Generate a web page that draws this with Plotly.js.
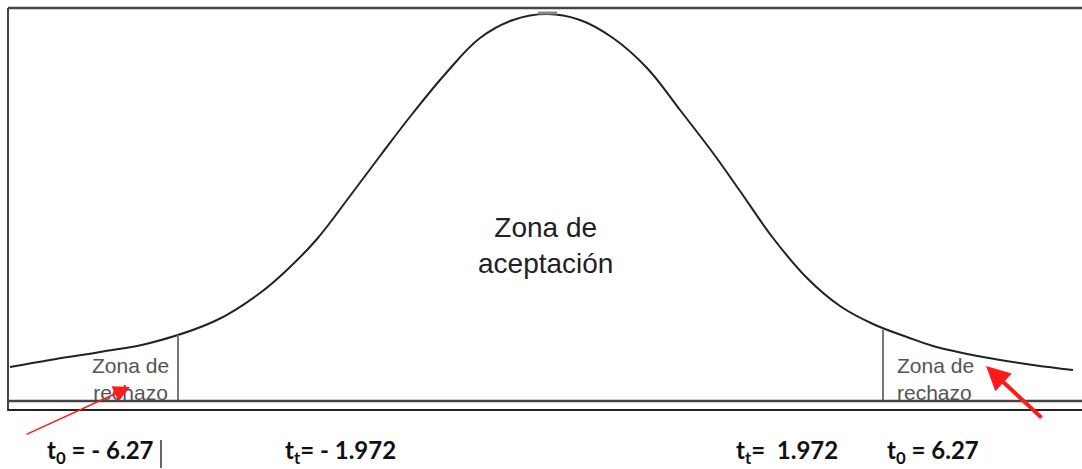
<!DOCTYPE html>
<html>
<head>
<meta charset="utf-8">
<script src="https://cdn.plot.ly/plotly-3.0.1.min.js"></script>
<style>html,body{margin:0;padding:0;background:#fff;}#chart{width:1082px;height:469px;}</style>
</head>
<body>
<div id="chart"></div>
<script>
// Curve (horizontal position, height above baseline)
const curveX = [10, 50, 100, 150, 217, 260, 290, 317, 350, 380, 413, 447, 480, 513, 547, 580, 613, 647, 680, 713, 740, 773, 807, 840, 873, 907, 933, 983, 1033, 1073];
const curveY = [34, 41, 49, 58, 81, 108, 134, 162, 205, 245, 288, 329, 363, 381, 387, 381, 363, 333, 291, 248, 210, 163, 123, 95, 77, 64, 55, 44, 36, 31];

// Critical value boundaries (position, height of the curve there)
const critX = [178, 883];
const critTop = [66, 71];

// Labels
const bottomLabels = ["<b>t<sub>0</sub> = - 6.27</b>", "<b>t<sub>t</sub>= - 1.972</b>", "<b>t<sub>t</sub>=  1.972</b>", "<b>t<sub>0</sub> = 6.27</b>"];
const zoneAccept = "Zona de<br>aceptación";
const zoneReject = "Zona de<br>rechazo";

const traces = [
  {x: curveX, y: curveY, mode: 'lines', line: {color: '#222', width: 2, shape: 'spline', smoothing: 1.1}, hoverinfo: 'skip'}
];
critX.forEach((cx, i) => {
  traces.push({x: [cx, cx], y: [0, critTop[i]], mode: 'lines', line: {color: '#777', width: 2}, hoverinfo: 'skip'});
});

const shapes = [
  {type: 'line', x0: 8, x1: 1082, y0: 393, y1: 393, line: {color: '#444', width: 2.5}},
  {type: 'line', x0: 8, x1: 8, y0: 393, y1: -10, line: {color: '#444', width: 2}},
  {type: 'line', x0: 8, x1: 1082, y0: 0, y1: 0, line: {color: '#444', width: 2.5}},
  {type: 'line', x0: 8, x1: 1082, y0: -9, y1: -9, line: {color: '#222', width: 2}},
  {type: 'line', x0: 538, x1: 557, y0: 388, y1: 388, line: {color: '#888', width: 3}},
  {type: 'line', x0: 161, x1: 161, y0: -39, y1: -67, line: {color: '#000', width: 1.2}}
];

const labelX = [100, 340, 787, 933];
const annotations = [];
bottomLabels.forEach((t, i) => {
  annotations.push({x: labelX[i], y: -50, xref: 'x', yref: 'y', text: t, showarrow: false,
    font: {family: 'Lato, "Liberation Sans", sans-serif', size: 24, color: '#111'}, xanchor: 'center', yanchor: 'middle'});
});
annotations.push({x: 545, y: 156, xref: 'x', yref: 'y', text: zoneAccept, showarrow: false,
  font: {family: '"Liberation Sans", Arial, sans-serif', size: 28, color: '#222'}, xanchor: 'center', yanchor: 'middle'});
annotations.push({x: 130, y: 22, xref: 'x', yref: 'y', text: zoneReject, showarrow: false, align: 'center',
  font: {family: '"Liberation Sans", Arial, sans-serif', size: 21, color: '#555'}, xanchor: 'center', yanchor: 'middle'});
annotations.push({x: 895, y: 22, xref: 'x', yref: 'y', text: zoneReject, showarrow: false, align: 'left',
  font: {family: '"Liberation Sans", Arial, sans-serif', size: 21, color: '#555'}, xanchor: 'left', yanchor: 'middle'});
// red arrows
annotations.push({x: 130, y: 14, ax: 25, ay: -34, xref: 'x', yref: 'y', axref: 'x', ayref: 'y', text: '',
  showarrow: true, arrowhead: 2, arrowsize: 2.2, arrowwidth: 1.5, arrowcolor: '#ff1a1a'});
annotations.push({x: 986, y: 35, ax: 1043, ay: -18, xref: 'x', yref: 'y', axref: 'x', ayref: 'y', text: '',
  showarrow: true, arrowhead: 2, arrowsize: 1.2, arrowwidth: 4, arrowcolor: '#ff1a1a'});

const layout = {
  width: 1082, height: 469,
  margin: {l: 0, r: 0, t: 0, b: 0},
  paper_bgcolor: '#fff', plot_bgcolor: '#fff',
  showlegend: false,
  xaxis: {range: [0, 1082], visible: false, fixedrange: true},
  yaxis: {range: [-68, 401], visible: false, fixedrange: true},
  shapes: shapes,
  annotations: annotations
};

Plotly.newPlot('chart', traces, layout, {displayModeBar: false, staticPlot: true});
</script>
</body>
</html>
